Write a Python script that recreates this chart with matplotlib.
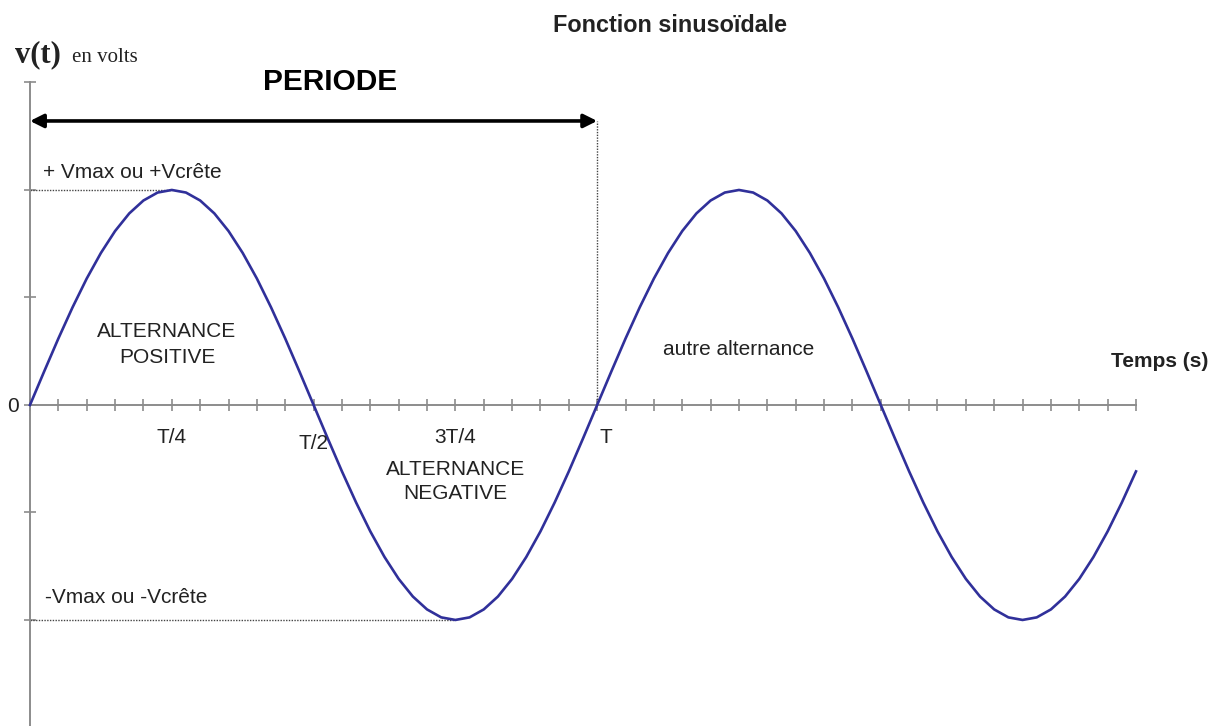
import matplotlib
matplotlib.use("Agg")
from matplotlib import pyplot as plt

# time in ticks (one tick = T/20), curve read every half tick
temps = [i / 2 for i in range(79)]
tension = [0.0, 0.156, 0.309, 0.454, 0.588, 0.707, 0.809, 0.891, 0.951, 0.988,
           1.0, 0.988, 0.951, 0.891, 0.809, 0.707, 0.588, 0.454, 0.309, 0.156,
           0.0, -0.156, -0.309, -0.454, -0.588, -0.707, -0.809, -0.891, -0.951, -0.988,
           -1.0, -0.988, -0.951, -0.891, -0.809, -0.707, -0.588, -0.454, -0.309, -0.156,
           0.0, 0.156, 0.309, 0.454, 0.588, 0.707, 0.809, 0.891, 0.951, 0.988,
           1.0, 0.988, 0.951, 0.891, 0.809, 0.707, 0.588, 0.454, 0.309, 0.156,
           0.0, -0.156, -0.309, -0.454, -0.588, -0.707, -0.809, -0.891, -0.951, -0.988,
           -1.0, -0.988, -0.951, -0.891, -0.809, -0.707, -0.588, -0.454, -0.309]
x_ticks = list(range(40))
periode = 20
v_max = 1.0
x_labels = ["T/4", "T/2", "3T/4", "T"]
x_label_pos = [5, 10, 15, 20]
y_ticks = [-1.5, -1.0, -0.5, 0.0, 0.5, 1.0, 1.5]

sans = "Liberation Sans"
serif = "Liberation Serif"
txt = "#222222"
grey = "#8c8c8c"

fig = plt.figure(figsize=(12.2, 7.26), dpi=100)
ax = fig.add_axes([30 / 1220, -0.002, 1106 / 1220, 0.8884])
ax.set_xlim(0, 39)
ax.set_ylim(-1.5, 1.5)

for s in ["top", "right"]:
    ax.spines[s].set_visible(False)
ax.spines["left"].set_position(("data", 0))
ax.spines["bottom"].set_position(("data", 0))
for s in ["left", "bottom"]:
    ax.spines[s].set_color(grey)
    ax.spines[s].set_linewidth(1.4)

ax.set_xticks(x_ticks)
ax.set_xticklabels([])
ax.set_yticks(y_ticks)
ax.set_yticklabels(["0" if v == 0 else "" for v in y_ticks],
                   fontfamily=sans, fontsize=15, color=txt)
ax.tick_params(axis="both", direction="inout", length=8.5, width=1.2, color=grey, pad=4)
ax.patch.set_visible(False)

ax.plot(temps, tension, color="#30309a", lw=1.9, clip_on=False, zorder=3)

# guides
ax.plot([0, periode / 4], [v_max, v_max], ls=(0, (1, 1)), color="#444444", lw=1)
ax.plot([0, 3 * periode / 4], [-v_max, -v_max], ls=(0, (1, 1)), color="#444444", lw=1)
ax.plot([periode, periode], [0, 1.321], ls=(0, (1, 1)), color="#444444", lw=1)
ax.annotate("", xy=(periode, 1.321), xytext=(0, 1.321), annotation_clip=False,
            arrowprops=dict(arrowstyle="<|-|>", color="black", lw=2.6,
                            mutation_scale=20, shrinkA=0, shrinkB=0))

for lab, xp in zip(x_labels, x_label_pos):
    yy = -0.177 if lab == "T/2" else -0.15
    dx = 0.3 if lab == "T" else 0
    ax.text(xp + dx, yy, lab, ha="center", va="center", fontsize=15,
            fontfamily=sans, color=txt)

ax.text(-0.53, 1.595, "v(t)", fontfamily=serif, fontweight="bold", fontsize=22,
        color=txt, va="baseline")
ax.text(1.48, 1.595, "en volts", fontfamily=serif, fontsize=15, color=txt, va="baseline")
ax.text(10.58, 1.465, "PERIODE", fontfamily=sans, fontweight="bold", fontsize=21.5,
        color="black", ha="center", va="baseline")
ax.text(22.57, 1.735, "Fonction sinusoïdale", fontfamily=sans, fontweight="bold",
        fontsize=16.8, color=txt, ha="center", va="baseline")
ax.text(0.46, 1.056, "+ Vmax ou +Vcrête", fontfamily=sans, fontsize=15, color=txt,
        va="baseline")
ax.text(0.53, -0.921, "-Vmax ou -Vcrête", fontfamily=sans, fontsize=15, color=txt,
        va="baseline")
ax.text(4.83, 0.344, "ALTERNANCE", fontfamily=sans, fontsize=15, color=txt,
        ha="center", va="center")
ax.text(4.83, 0.223, "POSITIVE", fontfamily=sans, fontsize=15, color=txt,
        ha="center", va="center")
ax.text(15.0, -0.298, "ALTERNANCE", fontfamily=sans, fontsize=15, color=txt,
        ha="center", va="center")
ax.text(15.0, -0.414, "NEGATIVE", fontfamily=sans, fontsize=15, color=txt,
        ha="center", va="center")
ax.text(25.0, 0.256, "autre alternance", fontfamily=sans, fontsize=15, color=txt,
        ha="center", va="center")
ax.text(39.84, 0.2, "Temps (s)", fontfamily=sans, fontweight="bold", fontsize=15,
        color=txt, ha="center", va="center")

plt.savefig("out.png", dpi=100)
